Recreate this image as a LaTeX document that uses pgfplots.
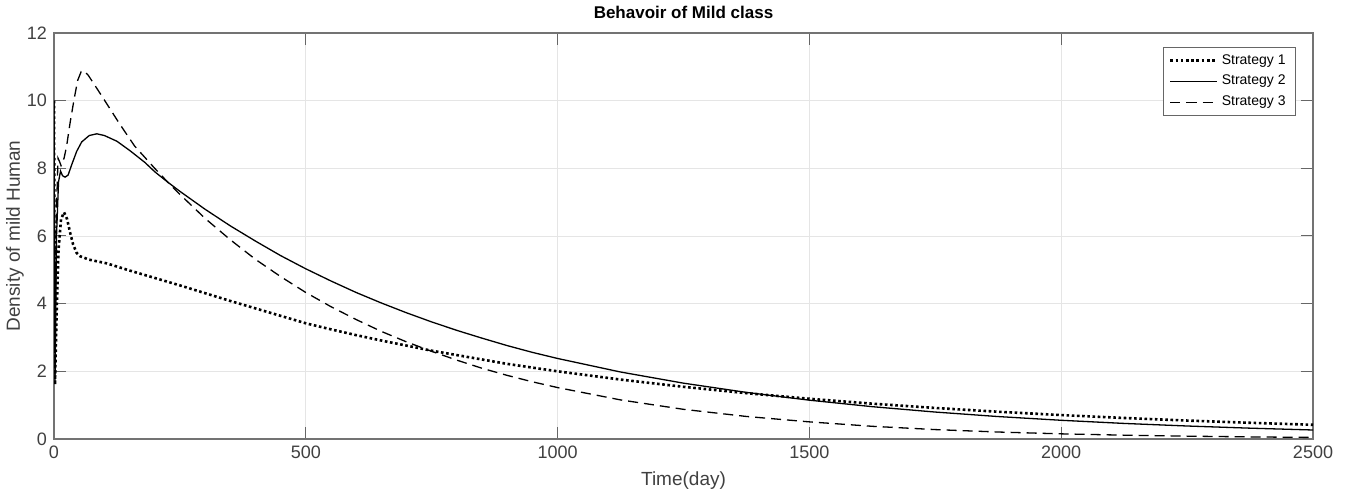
\documentclass[border=0pt]{standalone}
\usepackage{fontspec}
\setmainfont{Liberation Sans}
\usepackage{pgfplots}
\pgfplotsset{compat=1.18}
\usetikzlibrary{calc}

% strategy 1 (dotted)
\pgfplotstableread{
t y
0 10
2 1.6
5 3.6
9 5.6
14 6.5
20 6.7
26 6.5
32 6.1
38 5.75
45 5.5
52 5.4
70 5.3
105 5.19
150 4.98
200 4.76
250 4.54
300 4.31
350 4.08
400 3.86
450 3.64
500 3.42
550 3.24
600 3.07
650 2.91
700 2.76
750 2.61
800 2.48
850 2.35
900 2.22
950 2.11
1000 2.0
1125 1.756
1250 1.542
1375 1.354
1500 1.189
1625 1.044
1750 0.917
1875 0.805
2000 0.707
2125 0.621
2250 0.545
2375 0.479
2500 0.42
}\stratA

% strategy 2 (solid)
\pgfplotstableread{
t y
0 10
2 1.7
5 6.0
9 7.6
13 7.92
17 7.78
22 7.74
28 7.8
35 8.1
45 8.5
55 8.78
70 8.97
85 9.02
100 8.97
125 8.8
151 8.52
180 8.18
200 7.9
226 7.59
250 7.32
300 6.79
350 6.30
400 5.85
450 5.42
500 5.03
550 4.67
600 4.33
650 4.02
700 3.73
750 3.46
800 3.21
850 2.98
900 2.76
950 2.56
1000 2.38
1125 1.98
1250 1.65
1375 1.377
1500 1.147
1625 0.955
1750 0.796
1875 0.663
2000 0.553
2125 0.46
2250 0.384
2375 0.32
2500 0.266
}\stratB

% strategy 3 (dashed)
\pgfplotstableread{
t y
0 10
2 1.8
5 6.8
8 8.3
11 8.2
14 8.08
20 8.3
25 8.65
32 9.35
40 10.05
47 10.6
54 10.86
60 10.88
68 10.75
80 10.48
100 10.02
130 9.32
160 8.66
200 8.0
226 7.59
250 7.23
300 6.52
350 5.89
400 5.31
450 4.80
500 4.33
550 3.91
600 3.53
650 3.18
700 2.87
750 2.59
800 2.33
850 2.09
900 1.88
950 1.69
1000 1.52
1125 1.155
1250 0.877
1375 0.666
1500 0.506
1625 0.375
1750 0.278
1875 0.206
2000 0.152
2125 0.113
2250 0.084
2375 0.062
2500 0.046
}\stratC

\begin{document}
\begin{tikzpicture}
\begin{axis}[
  name=ax,
  scale only axis,
  width=629.5pt, height=203pt,
  xmin=0, xmax=2500, ymin=0, ymax=12,
  xtick={0,500,...,2500}, ytick={0,2,...,12},
  scaled x ticks=false,
  /pgf/number format/1000 sep={},
  grid=major,
  major grid style={draw=black!10, line width=0.4pt},
  axis line style={draw=black!55, line width=0.6pt},
  tick style={draw=black!60, line width=0.5pt},
  major tick length=6pt,
  tick label style={font=\fontsize{9}{10}\selectfont, text=black!75},
  /pgf/number format/assume math mode=true,
  every axis title shift=0pt,
  title={Behavoir of Mild class},
  title style={font=\fontsize{8.5}{10}\selectfont\bfseries, at={(axis description cs:0.5,1.0517)}, anchor=center},
  xlabel={Time(day)},
  xlabel style={font=\fontsize{9.5}{11}\selectfont, text=black!75, at={(axis description cs:0.5,-0.1034)}, anchor=center},
  ylabel={Density of mild Human},
  ylabel style={font=\fontsize{9.5}{11}\selectfont, text=black!75, at={(axis description cs:-0.031,0.5)}, anchor=center},
  legend style={at={(axis description cs:0.9865,0.9655)}, anchor=north east,
    font=\fontsize{7}{8}\selectfont, draw=black!60, fill=white,
    inner xsep=3pt, inner ysep=1.5pt, row sep=0pt},
  legend cell align=left,
  legend image code/.code={\draw[#1] (0pt,0pt) -- (23pt,0pt);},
]
\addplot[black, line width=1.3pt, dash pattern=on 1.3pt off 1.3pt] table[x=t, y=y] {\stratA};
\addlegendentry{Strategy 1}
\addplot[black, line width=0.65pt] table[x=t, y=y] {\stratB};
\addlegendentry{Strategy 2}
\addplot[black, line width=0.65pt, dash pattern=on 5pt off 3pt] table[x=t, y=y] {\stratC};
\addlegendentry{Strategy 3}
\end{axis}
\pgfresetboundingbox
\path[use as bounding box] ($(ax.south west)+(-27pt,-28.5pt)$) rectangle ($(ax.north east)+(17pt,16.5pt)$);
\end{tikzpicture}
\end{document}
